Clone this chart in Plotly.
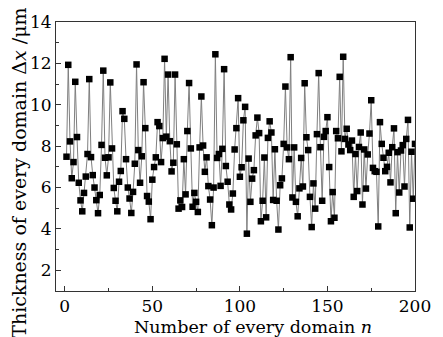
import plotly.graph_objects as go

domain_n = list(range(1, 201))
thickness = [
    7.49, 11.93, 8.23, 6.45, 7.23, 11.11, 8.44, 6.23, 5.38, 4.85,
    5.74, 6.53, 7.62, 11.24, 7.47, 6.60, 6.00, 5.39, 4.76, 5.64,
    8.06, 11.65, 7.44, 6.59, 7.46, 11.08, 7.89, 5.98, 5.36, 4.85,
    6.28, 6.80, 9.69, 9.32, 7.37, 6.00, 5.47, 4.77, 5.79, 7.15,
    11.95, 7.81, 6.23, 7.51, 11.09, 8.87, 5.59, 5.32, 4.47, 6.38,
    6.99, 7.46, 9.16, 8.97, 7.23, 8.39, 12.22, 8.46, 11.46, 8.24,
    6.78, 7.20, 11.46, 8.09, 4.98, 5.38, 5.06, 7.37, 5.67, 8.73,
    11.05, 7.89, 5.07, 5.74, 5.31, 4.82, 7.94, 10.40, 8.03, 6.76,
    7.46, 6.07, 5.42, 4.18, 6.00, 12.44, 7.43, 7.62, 6.08, 7.87,
    11.72, 7.04, 6.28, 5.18, 4.94, 5.71, 7.84, 8.87, 10.32, 6.52,
    6.98, 9.25, 9.90, 3.77, 7.40, 5.31, 6.43, 6.84, 8.52, 9.38,
    8.63, 4.37, 5.36, 7.45, 4.56, 8.40, 9.20, 8.66, 5.40, 7.85,
    5.36, 3.97, 6.11, 6.44, 8.11, 10.88, 7.94, 7.37, 12.30, 5.52,
    7.94, 5.31, 4.61, 5.96, 7.43, 6.05, 11.04, 8.43, 7.81, 5.55,
    4.09, 6.20, 4.98, 8.58, 11.53, 7.95, 5.36, 8.45, 8.73, 9.40,
    6.99, 4.37, 5.78, 4.54, 8.73, 8.38, 11.35, 7.75, 12.32, 8.35,
    8.84, 8.08, 7.81, 8.27, 5.55, 7.62, 5.83, 7.96, 8.66, 5.18,
    7.84, 5.95, 7.60, 8.61, 10.22, 6.95, 6.79, 6.76, 4.12, 9.16,
    8.11, 7.44, 6.79, 7.00, 7.68, 6.25, 7.95, 8.86, 4.76, 7.71,
    5.76, 7.79, 8.05, 6.05, 8.35, 9.27, 4.07, 7.73, 5.46, 8.11,
]

x_ticks = [0, 50, 100, 150, 200]
y_ticks = [2, 4, 6, 8, 10, 12, 14]
x_title = "Number of every domain <i>n</i>"
y_title = "Thickness of every domain Δ<i>x</i> /μm"

serif = "DejaVu Serif"

fig = go.Figure()
fig.add_trace(go.Scatter(
    x=domain_n, y=thickness, mode="lines+markers",
    line=dict(color="#7f7f7f", width=1),
    marker=dict(symbol="square", size=6.5, color="black",
                line=dict(width=0)),
    showlegend=False,
))

fig.update_layout(
    width=443, height=337,
    margin=dict(l=56, r=14, t=12, b=46),
    paper_bgcolor="white", plot_bgcolor="white",
    font=dict(family=serif, size=17, color="black"),
)
fig.update_xaxes(
    range=[-5, 200.001], tickvals=x_ticks,
    ticks="inside", ticklen=5, tickwidth=1, tickcolor="#333",
    minor=dict(dtick=25, tick0=0, ticks="inside", ticklen=3,
               tickcolor="#333", showgrid=False),
    showline=True, linecolor="#333", linewidth=1, mirror=True,
    showgrid=False, zeroline=False, ticklabeloverflow="allow",
    tickfont=dict(size=17, family=serif),
)
fig.update_yaxes(
    range=[1, 14], tickvals=y_ticks,
    ticks="inside", ticklen=5, tickwidth=1, tickcolor="#333",
    minor=dict(dtick=1, tick0=0, ticks="inside", ticklen=3,
               tickcolor="#333", showgrid=False),
    showline=True, linecolor="#333", linewidth=1, mirror=True,
    showgrid=False, zeroline=False,
    tickfont=dict(size=17, family=serif),
)

fig.add_annotation(
    text=x_title, xref="paper", yref="paper",
    x=0.55, y=-0.132, xanchor="center", yanchor="middle",
    showarrow=False, font=dict(size=17.5, family=serif),
)
fig.add_annotation(
    text=y_title, xref="paper", yref="paper",
    x=-0.102, y=0.441, xanchor="center", yanchor="middle", textangle=-90,
    showarrow=False, font=dict(size=19, family=serif),
)

fig.write_html("out.html")
